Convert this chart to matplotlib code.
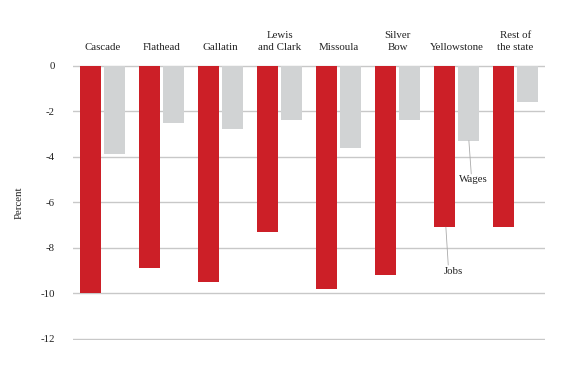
import matplotlib
matplotlib.use("Agg")
import matplotlib.pyplot as plt
import numpy as np

categories = ["Cascade", "Flathead", "Gallatin", "Lewis\nand Clark", "Missoula",
              "Silver\nBow", "Yellowstone", "Rest of\nthe state"]
jobs = [-10.0, -8.9, -9.5, -7.3, -9.8, -9.2, -7.1, -7.1]
wages = [-3.9, -2.5, -2.8, -2.4, -3.6, -2.4, -3.3, -1.6]
yticks = [0, -2, -4, -6, -8, -10, -12]

plt.rcParams['font.family'] = ['Liberation Serif', 'DejaVu Serif']

fig = plt.figure(figsize=(5.70, 3.81), dpi=100)
ax = fig.add_axes([73/570, 1-340/381, (545-73)/570, (340-64.5)/381])

x = np.arange(len(categories))
off = 0.203
w = 0.356
red = "#cc1f27"
gray = "#d1d3d4"
ax.bar(x - off, jobs, width=w, color=red, zorder=3)
ax.bar(x + off, wages, width=w, color=gray, zorder=3)

ax.set_xlim(-0.5, len(categories) - 0.5)
ax.set_ylim(-12.05, 0.05)
ax.set_yticks(yticks)
ax.set_yticklabels([str(t) for t in yticks], fontsize=7.8, color="#222222")
ax.yaxis.grid(True, color="#c8c8c8", linewidth=1.0, zorder=0)
ax.set_axisbelow(True)
ax.tick_params(axis='x', length=0)
ax.set_xticks(x)
ax.set_xticklabels(categories, fontsize=7.8, color="#222222", linespacing=1.45)
ax.xaxis.set_ticks_position('top')
ax.tick_params(axis='x', pad=9)
ax.tick_params(axis='y', length=0, pad=13)
for s in ax.spines.values():
    s.set_visible(False)

ax.set_ylabel("Percent", fontsize=7.8, color="#222222", labelpad=12)

# annotations
ax.plot([6.21, 6.25], [-3.3, -4.75], color="#aaaaaa", linewidth=0.6, zorder=4)
ax.text(6.28, -5.02, "Wages", fontsize=7.8, ha="center", va="center", color="#222222")
ax.plot([5.82, 5.86], [-7.1, -8.75], color="#aaaaaa", linewidth=0.6, zorder=4)
ax.text(5.94, -9.04, "Jobs", fontsize=7.8, ha="center", va="center", color="#222222")

fig.savefig("out.png", dpi=100)
